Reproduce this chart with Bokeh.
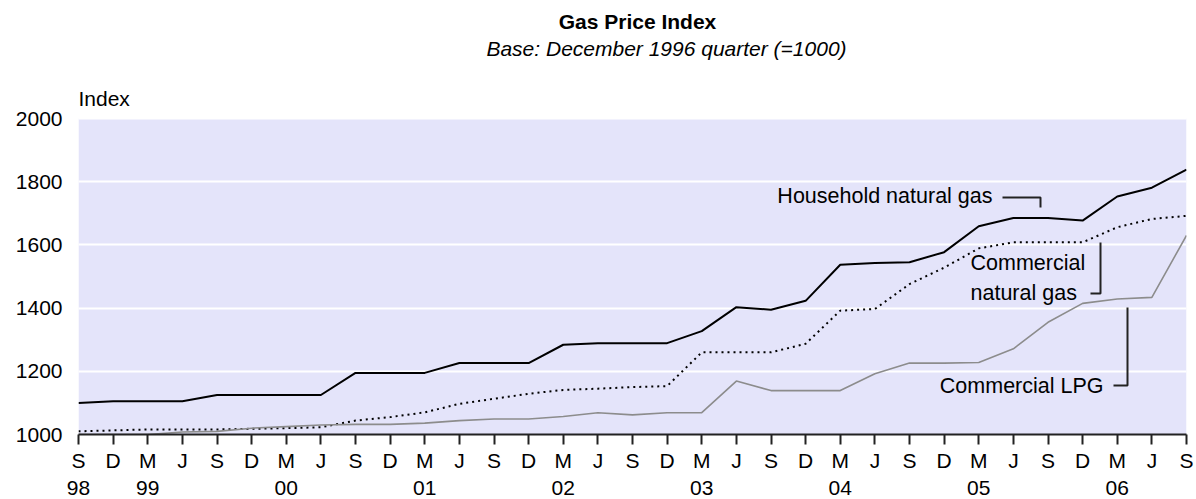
from bokeh.plotting import figure
from bokeh.models import LinearAxis, FixedTicker, Range1d, ColumnDataSource, BoxAnnotation
from bokeh.core.properties import value
from bokeh.embed import file_html
from bokeh.resources import INLINE

# ---------------- data ----------------
quarters = ["Sep-98", "Dec-98", "Mar-99", "Jun-99", "Sep-99", "Dec-99", "Mar-00", "Jun-00",
            "Sep-00", "Dec-00", "Mar-01", "Jun-01", "Sep-01", "Dec-01", "Mar-02", "Jun-02",
            "Sep-02", "Dec-02", "Mar-03", "Jun-03", "Sep-03", "Dec-03", "Mar-04", "Jun-04",
            "Sep-04", "Dec-04", "Mar-05", "Jun-05", "Sep-05", "Dec-05", "Mar-06", "Jun-06",
            "Sep-06"]
month_labels = ["S", "D", "M", "J", "S", "D", "M", "J", "S", "D", "M", "J", "S", "D", "M", "J",
                "S", "D", "M", "J", "S", "D", "M", "J", "S", "D", "M", "J", "S", "D", "M", "J", "S"]
year_labels = {"Sep-98": "98", "Mar-99": "99", "Mar-00": "00", "Mar-01": "01", "Mar-02": "02",
               "Mar-03": "03", "Mar-04": "04", "Mar-05": "05", "Mar-06": "06"}

household_natural_gas = [1100, 1105, 1105, 1105, 1125, 1125, 1125, 1125, 1195, 1195, 1195, 1226,
                         1226, 1226, 1284, 1289, 1289, 1289, 1327, 1403, 1395, 1423, 1537, 1543,
                         1545, 1577, 1659, 1685, 1685, 1677, 1753, 1781, 1838]
commercial_natural_gas = [1010, 1013, 1016, 1016, 1016, 1018, 1020, 1023, 1044, 1055, 1070, 1097,
                          1113, 1129, 1141, 1145, 1150, 1153, 1260, 1260, 1260, 1287, 1392, 1397,
                          1476, 1528, 1589, 1608, 1608, 1608, 1656, 1682, 1692]
commercial_lpg = [1000, 1000, 1000, 1008, 1010, 1020, 1025, 1030, 1032, 1032, 1036, 1044,
                  1049, 1049, 1057, 1069, 1062, 1069, 1069, 1169, 1139, 1139, 1139, 1192,
                  1226, 1226, 1228, 1271, 1355, 1415, 1429, 1434, 1630]
y_ticks = [1000, 1200, 1400, 1600, 1800, 2000]

title = "Gas Price Index"
subtitle = "Base: December 1996 quarter (=1000)"
y_title = "Index"

# ---------------- layout constants (pixels) ----------------
FONT = "Liberation Sans"
W, H = 1194, 498
LEFT, RIGHT, BOTTOM = 78, 8, 64
FRAME_W = W - LEFT - RIGHT          # 1108
FRAME_H = H - BOTTOM                # 434 (frame reaches the top of the figure)
PLOT_H = 316                        # height of the shaded 1000..2000 band

x = list(range(len(quarters)))
y_lo, y_hi = y_ticks[0], y_ticks[-1]
y_top = y_lo + (y_hi - y_lo) * FRAME_H / PLOT_H

def px_x(px):  # page pixel -> x data (for text placement only)
    return (px - LEFT) * (len(quarters) - 1) / FRAME_W

def px_y(py):  # page pixel -> y data (for text placement only)
    return y_lo + (FRAME_H - py) * (y_hi - y_lo) / PLOT_H

src = ColumnDataSource(dict(x=x, hh=household_natural_gas, cng=commercial_natural_gas, lpg=commercial_lpg))

p = figure(width=W, height=H, output_backend="svg", toolbar_location=None,
           x_range=Range1d(0, len(quarters) - 1), y_range=Range1d(y_lo, y_top),
           min_border_left=LEFT, min_border_right=RIGHT, min_border_top=0, min_border_bottom=BOTTOM,
           background_fill_color="white", border_fill_color="white", outline_line_color=None)

# lavender plotting band
p.add_layout(BoxAnnotation(bottom=y_lo, top=y_hi, fill_color="#E4E4FA", fill_alpha=1.0,
                           line_color=None, level="image"))

p.xgrid.grid_line_color = None
p.ygrid.ticker = FixedTicker(ticks=y_ticks)
p.ygrid.grid_line_color = "white"
p.ygrid.grid_line_width = 2

# y axis
p.yaxis.ticker = FixedTicker(ticks=y_ticks)
p.yaxis.axis_line_color = None
p.yaxis.major_tick_line_color = None
p.yaxis.major_tick_out = 6
p.yaxis.minor_tick_line_color = None
p.yaxis.major_label_standoff = 10
p.yaxis.major_label_text_font = FONT
p.yaxis.major_label_text_font_size = "21px"
p.yaxis.major_label_text_color = "black"

# x axis (months)
p.xaxis.ticker = FixedTicker(ticks=x)
p.xaxis.major_label_overrides = {i: m for i, m in zip(x, month_labels)}
p.xaxis.axis_line_color = "#222222"
p.xaxis.axis_line_width = 2
p.xaxis.major_tick_line_color = "#222222"
p.xaxis.major_tick_line_width = 2
p.xaxis.major_tick_in = 0
p.xaxis.major_tick_out = 10
p.xaxis.minor_tick_line_color = None
p.xaxis.major_label_standoff = 4
p.xaxis.major_label_text_font = FONT
p.xaxis.major_label_text_font_size = "21px"
p.xaxis.major_label_text_color = "black"

# x axis (years)
year_pos = [quarters.index(q) for q in year_labels]
yax = LinearAxis(ticker=FixedTicker(ticks=year_pos),
                 major_label_overrides={quarters.index(q): yl for q, yl in year_labels.items()},
                 axis_line_color=None, major_tick_line_color=None, minor_tick_line_color=None,
                 major_label_standoff=0, major_label_text_font=FONT,
                 major_label_text_font_size="21px", major_label_text_color="black")
p.add_layout(yax, "below")

# series
p.line("x", "hh", source=src, line_color="black", line_width=2)
p.line("x", "cng", source=src, line_color="black", line_width=2, line_dash="2 4")
p.line("x", "lpg", source=src, line_color="#8C8C8C", line_width=1.6)

# ---------------- texts ----------------
def txt(s, px, py, align="left", size="21px", style="normal"):
    p.text(x=[px_x(px)], y=[px_y(py)], text=[s], text_align=align, text_baseline="alphabetic",
           text_font=value(FONT), text_font_size=size, text_font_style=style, text_color="black")

txt(title, 637, 21, "center", "21px", "bold")
txt(subtitle, 666, 48, "center", "21px", "italic")
txt(y_title, 78, 98, "left", "21px")

txt("Household natural gas", 992, 195, "right", "21.5px")
txt("Commercial", 970, 262, "left", "21.5px")
txt("natural gas", 970, 292, "left", "21.5px")
txt("Commercial LPG", 1103, 385, "right", "21.5px")

leaders = [
    ([1002, 1040, 1040], [197, 197, 207]),
    ([1090, 1100, 1100], [293, 293, 242]),
    ([1113, 1127, 1127], [385, 385, 307]),
]
for lx, ly in leaders:
    p.line([px_x(v) for v in lx], [px_y(v) for v in ly], line_color="#222222", line_width=2)

open("out.html", "w").write(file_html(p, INLINE))
